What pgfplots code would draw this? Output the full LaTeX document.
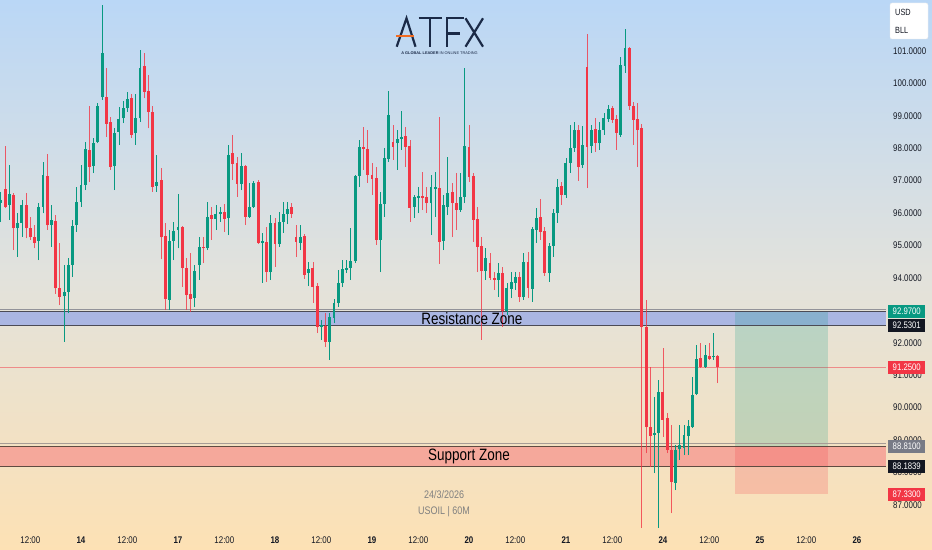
\documentclass[border=0pt]{standalone}
\usepackage{pgfplots}
\usepackage{pgfplotstable}
\usepackage{fontspec}
\pgfplotsset{compat=1.18}
\newfontfamily\tvfont{Liberation Sans}[FakeStretch=0.82]
\newfontfamily\logosub{Liberation Sans}

\definecolor{tvgreen}{RGB}{8,153,129}
\definecolor{tvred}{RGB}{242,54,69}
\definecolor{tvtext}{RGB}{19,23,34}
\definecolor{tvgray}{RGB}{120,123,134}
\definecolor{zoneblue}{RGB}{170,182,226}
\definecolor{zonered}{RGB}{245,168,155}
\definecolor{zoneline}{RGB}{75,75,85}
\definecolor{supline}{RGB}{95,75,65}
\definecolor{bgtop}{RGB}{186,215,246}
\definecolor{bgmid}{RGB}{226,226,220}
\definecolor{bgbot}{RGB}{253,225,180}
\definecolor{navy}{RGB}{27,42,71}
\definecolor{atfxorange}{RGB}{242,107,33}

% USOIL 60M candles: x = bar index, o h l c
\pgfplotstableread{
x o h l c
0 96.31 96.65 95.72 96.40
2 96.25 97.48 95.79 96.59
4 95.53 95.99 94.65 95.68
5 95.70 96.40 95.27 96.25
9 95.15 96.30 94.55 96.18
10 96.20 97.58 95.99 97.17
12 95.63 96.25 94.96 95.79
15 93.44 94.40 92.03 93.57
16 93.57 94.61 92.91 94.40
17 94.40 95.79 94.04 95.60
18 95.63 96.81 95.43 96.35
19 96.35 97.48 96.20 96.87
20 96.87 98.20 96.71 97.97
22 97.46 98.31 97.23 98.15
23 98.20 99.39 98.15 99.30
24 99.57 102.42 99.49 100.93
27 97.46 98.61 96.71 98.48
28 98.51 99.28 98.10 98.89
29 98.92 99.44 98.77 99.23
30 99.23 99.74 99.13 99.51
32 98.46 99.67 98.10 98.92
33 98.92 101.03 98.82 100.47
37 96.84 97.79 96.66 96.97
40 93.32 95.48 93.01 95.15
41 95.15 95.73 94.55 95.45
42 95.48 96.59 94.91 95.56
46 93.39 94.40 93.11 94.22
47 94.40 95.27 93.94 94.96
49 94.91 96.35 94.86 95.89
51 95.81 96.25 95.48 95.96
52 95.97 96.20 95.73 96.04
54 95.84 98.10 95.32 97.79
57 96.90 97.85 96.71 97.45
59 95.88 96.93 95.85 96.19
60 96.19 96.99 96.16 96.93
62 95.08 95.39 93.85 95.14
64 94.18 95.94 93.94 95.70
66 95.05 96.04 94.96 95.73
67 95.73 96.34 95.39 95.97
68 95.97 96.34 95.66 96.12
71 95.08 95.63 94.86 95.26
73 94.15 94.49 93.75 94.28
76 92.49 92.70 92.09 92.55
78 92.03 92.92 91.47 92.80
79 92.77 93.35 92.61 93.23
80 93.23 94.25 93.11 93.85
81 93.85 94.56 93.72 94.28
82 94.25 94.56 94.15 94.31
83 94.31 95.54 93.94 94.52
84 94.52 97.18 94.46 97.15
85 97.15 98.26 96.81 98.04
90 95.17 96.65 94.18 96.28
91 96.28 98.01 95.88 97.70
92 97.67 99.77 97.58 99.03
94 98.16 98.56 97.33 98.29
95 98.29 99.15 97.95 98.35
98 96.19 96.56 95.85 96.50
99 96.47 96.81 96.00 96.53
102 96.31 97.18 95.32 96.81
103 96.74 97.27 95.88 96.81
105 95.14 96.56 94.86 96.25
106 96.19 97.73 95.94 96.62
109 96.10 97.24 96.04 96.50
110 96.50 100.47 96.31 98.07
115 94.22 94.92 93.94 94.62
118 93.94 94.46 93.41 94.15
120 92.98 93.85 92.86 93.69
121 93.66 94.18 93.38 93.88
122 93.85 94.18 93.63 94.03
124 93.41 94.77 93.32 94.49
126 93.66 95.57 93.26 95.51
127 95.48 96.16 95.08 95.85
130 94.15 95.08 93.88 94.99
131 94.99 96.13 94.65 96.00
132 96.00 97.05 95.70 96.81
134 96.56 97.70 96.47 97.55
135 97.55 98.72 97.24 98.01
136 98.01 98.81 97.89 98.56
138 97.48 98.69 97.39 98.10
140 98.07 98.72 97.85 98.56
142 98.16 98.81 97.95 98.56
143 98.56 99.09 98.41 98.93
144 98.90 99.34 98.81 99.21
147 98.41 100.82 98.35 100.57
148 100.54 101.68 100.32 101.09
155 89.16 90.33 87.98 89.22
156 89.22 90.86 86.29 90.49
160 87.68 88.85 87.46 88.70
161 88.73 89.47 88.39 88.85
162 88.76 89.47 88.54 89.16
163 89.13 89.62 88.54 89.44
164 89.40 90.95 89.37 90.39
165 90.42 91.93 90.39 91.50
167 91.26 91.93 91.23 91.63
169 91.55 92.30 91.47 91.58
}\upcandles

\pgfplotstableread{
x o h l c
1 96.73 98.07 96.15 96.20
3 96.56 96.63 94.86 95.53
6 96.25 96.63 95.22 95.53
7 95.53 95.89 95.17 95.25
8 95.25 95.63 94.91 95.09
11 97.14 97.82 95.48 95.62
13 95.76 95.94 93.52 93.68
14 93.68 95.07 93.16 93.42
21 97.94 99.30 96.97 97.43
25 99.59 100.47 98.35 98.75
26 98.82 98.97 97.33 97.43
31 99.56 99.67 98.31 98.41
34 100.52 100.93 99.54 99.74
35 99.77 100.26 98.61 99.13
36 99.13 99.30 96.66 96.81
38 97.02 97.38 94.57 95.25
39 95.29 95.68 93.01 93.34
43 95.58 95.60 93.73 94.30
44 94.32 94.61 93.01 93.47
45 93.49 94.76 92.96 93.35
48 94.96 95.27 94.45 94.91
50 95.94 96.20 95.17 95.81
53 96.04 96.28 95.43 95.82
55 97.85 98.41 97.02 97.52
56 97.55 97.73 96.50 96.90
58 97.45 97.48 95.63 95.88
61 96.96 97.02 95.05 95.08
63 95.11 95.57 93.88 94.18
65 95.70 95.85 94.34 95.05
69 96.19 96.31 95.85 95.97
70 95.26 95.63 94.65 95.11
72 95.30 95.36 93.97 94.09
74 94.31 94.49 93.23 93.72
75 93.75 93.85 92.30 92.49
77 92.52 92.92 91.87 92.03
86 98.04 98.66 97.33 97.98
87 97.98 98.56 96.93 97.18
88 97.18 97.55 96.56 97.05
89 97.08 97.42 95.02 95.17
93 98.19 98.72 97.64 98.04
96 98.38 98.66 97.42 98.04
97 98.07 98.26 95.73 96.16
100 96.50 97.27 96.10 96.47
101 96.50 96.81 96.00 96.31
104 96.77 98.96 94.43 95.11
107 96.65 96.93 95.26 96.31
108 96.31 97.24 95.48 96.10
111 98.04 98.72 96.96 97.11
112 97.14 97.24 95.11 95.79
113 95.82 96.19 94.18 94.96
114 94.99 95.26 92.09 94.22
116 94.46 94.77 93.94 94.00
117 94.00 94.18 93.63 93.94
119 94.15 94.34 92.49 92.98
123 94.03 94.18 93.26 93.41
125 94.49 94.80 93.38 93.69
128 95.88 96.44 95.17 95.42
129 95.45 95.57 94.06 94.15
133 96.84 96.96 96.25 96.56
137 98.56 98.72 96.99 97.42
139 100.51 101.52 96.77 98.04
141 98.59 98.93 97.89 98.16
145 99.24 99.30 98.78 98.87
146 98.90 99.03 97.95 98.47
149 101.09 101.12 99.18 99.30
150 99.30 99.43 98.10 98.87
151 98.90 99.40 97.42 98.56
152 98.62 98.75 86.29 92.49
153 92.49 93.32 88.60 89.40
154 89.40 91.26 88.17 89.13
157 90.49 91.84 89.10 89.62
158 89.68 89.84 88.60 88.70
159 88.70 89.47 86.75 87.71
166 91.53 91.99 91.23 91.26
168 91.60 91.99 91.47 91.50
170 91.60 91.63 90.76 91.26
}\downcandles

\tikzset{
  pricebox/.style={anchor=west, xshift=10bp, inner xsep=4.5bp, inner ysep=0pt,
    minimum height=13bp, text depth=0pt, text=white,
    font=\tvfont\fontsize{9.5}{10}\selectfont},
}

\begin{document}
\begin{tikzpicture}[x=1bp,y=1bp]
\useasboundingbox (0,0) rectangle (932,550);
\shade[top color=bgtop, bottom color=bgbot, middle color=bgmid] (0,0) rectangle (932,550);

\begin{axis}[
    at={(0bp,20.7bp)}, anchor=south west,
    width=878bp, height=529.3bp, scale only axis,
    xmin=-0.2, xmax=208, ymin=86.25, ymax=102.57,
    clip=false,
    axis line style={draw=none},
    major tick length=0pt,
    tick style={draw=none},
    xtick={7,19,30,42,53,65,76,88,99,111,122,134,145,157,168,180,191,203},
    xticklabels={12:00,\textbf{14},12:00,\textbf{17},12:00,\textbf{18},12:00,\textbf{19},12:00,\textbf{20},12:00,\textbf{21},12:00,\textbf{24},12:00,\textbf{25},12:00,\textbf{26}},
    xticklabel style={anchor=base, yshift=-14bp, inner sep=0pt, text=tvtext,
        font=\tvfont\fontsize{9.7}{10}\selectfont},
    ytick={87,88,...,101},
    yticklabel pos=right,
    yticklabel style={anchor=west, xshift=15bp, inner sep=0pt, text=tvtext,
        font=\tvfont\fontsize{9.7}{10}\selectfont},
    /pgf/number format/.cd, fixed, fixed zerofill, precision=4, assume math mode=true,
]

% zones
\addplot[fill=zoneblue, draw=none, forget plot] coordinates {(-0.2,92.53) (210,92.53) (210,92.97) (-0.2,92.97)};
\addplot[fill=zonered, draw=none, forget plot] coordinates {(-0.2,88.1839) (210,88.1839) (210,88.81) (-0.2,88.81)};

% current price line
\addplot[tvred, draw opacity=0.5, line width=0.7bp, forget plot] coordinates {(-0.2,91.25) (210,91.25)};

% long position: target and stop areas
\addplot[fill=tvgreen, fill opacity=0.2, draw=none, forget plot] coordinates {(174.1,88.81) (196.1,88.81) (196.1,92.97) (174.1,92.97)};
\addplot[fill=tvred, fill opacity=0.2, draw=none, forget plot] coordinates {(174.1,87.33) (196.1,87.33) (196.1,88.81) (174.1,88.81)};

% zone borders
\addplot[zoneline!60, line width=0.8bp, forget plot] coordinates {(-0.2,93.03) (210,93.03)};
\addplot[zoneline, line width=1.2bp, forget plot] coordinates {(-0.2,92.97) (210,92.97)};
\addplot[zoneline, line width=1.4bp, forget plot] coordinates {(-0.2,92.53) (210,92.53)};
\addplot[supline!55, line width=0.8bp, forget plot] coordinates {(-0.2,88.89) (210,88.89)};
\addplot[supline, line width=1.3bp, forget plot] coordinates {(-0.2,88.81) (210,88.81)};
\addplot[supline, line width=1.4bp, forget plot] coordinates {(-0.2,88.1839) (210,88.1839)};

% wicks
\addplot[draw=none, mark=none, forget plot,
    error bars/.cd, y dir=plus, y explicit, error mark=none,
    error bar style={draw=tvgreen, line width=0.8bp}]
    table[x=x, y=l, y error plus expr=\thisrow{h}-\thisrow{l}] {\upcandles};
\addplot[draw=none, mark=none, forget plot,
    error bars/.cd, y dir=plus, y explicit, error mark=none,
    error bar style={draw=tvred, line width=0.8bp, opacity=0.8}]
    table[x=x, y=l, y error plus expr=\thisrow{h}-\thisrow{l}] {\downcandles};
% bodies
\addplot[draw=none, mark=none, forget plot,
    error bars/.cd, y dir=plus, y explicit, error mark=none,
    error bar style={draw=tvgreen, line width=2.9bp}]
    table[x=x, y=o, y error plus expr={max(\thisrow{c}-\thisrow{o},0.05)}] {\upcandles};
\addplot[draw=none, mark=none, forget plot,
    error bars/.cd, y dir=plus, y explicit, error mark=none,
    error bar style={draw=tvred, line width=2.9bp}]
    table[x=x, y=c, y error plus expr={max(\thisrow{o}-\thisrow{c},0.05)}] {\downcandles};

% zone labels and watermark
\node[font=\tvfont\fontsize{16.5}{18}\selectfont, text=black] at (axis cs:111.7,92.76) {Resistance Zone};
\node[font=\tvfont\fontsize{16.5}{18}\selectfont, text=black] at (axis cs:111.0,88.51) {Support Zone};
\node[font=\tvfont\fontsize{11}{12}\selectfont, text=black!50] at (axis cs:105.1,87.31) {24/3/2026};
\node[font=\tvfont\fontsize{11}{12}\selectfont, text=black!50] at (axis cs:105.1,86.79) {USOIL | 60M};

% price scale boxes
\node[pricebox, fill=tvgreen] at (axis cs:208,92.97) {92.9700};
\node[pricebox, fill=tvtext] at (axis cs:208,92.5301) {92.5301};
\node[pricebox, fill=tvred] at (axis cs:208,91.25) {91.2500};
\node[pricebox, fill=tvgray] at (axis cs:208,88.81) {88.8100};
\node[pricebox, fill=tvtext] at (axis cs:208,88.1839) {88.1839};
\node[pricebox, fill=tvred] at (axis cs:208,87.33) {87.3300};
\end{axis}

% currency box
\draw[fill=white, draw=black!8, rounded corners=2bp] (890,511) rectangle (928,547);
\node[anchor=west, inner sep=0pt, text=tvtext, font=\tvfont\fontsize{9}{10}\selectfont] at (895,538) {USD};
\node[anchor=west, inner sep=0pt, text=tvtext, font=\tvfont\fontsize{9}{10}\selectfont] at (895,519.5) {BLL};

% ATFX logo
\begin{scope}[navy, line width=2.2bp, line cap=butt, line join=miter]
\draw (396.7,503.3) -- (406.5,531.7) -- (415.5,503.3);
\draw (418.5,531.7) -- (441.5,531.7) (430,531.7) -- (430,503.3);
\draw (447,503.3) -- (447,531.7) -- (463.5,531.7) (447,516.5) -- (460,516.5);
\draw (465.5,531.7) -- (483,503.3) (483,531.7) -- (465.5,503.3);
\end{scope}
\draw[atfxorange, line width=2bp] (396,514) -- (413.5,514);
\node[font=\logosub\fontsize{3.9}{4}\selectfont, text=navy, inner sep=0pt] at (439.5,497.3)
  {\textbf{A GLOBAL LEADER} IN ONLINE TRADING};
\end{tikzpicture}
\end{document}
